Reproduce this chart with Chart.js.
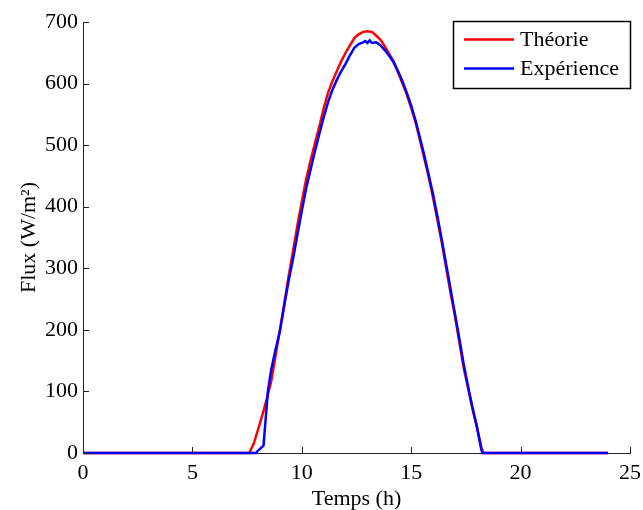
<!DOCTYPE html>
<html>
<head>
<meta charset="utf-8">
<script src="https://cdn.jsdelivr.net/npm/chart.js@4.4.0/dist/chart.umd.min.js"></script>
<style>
    body { margin: 0; background: #fff; }
    canvas { display: block; }
</style>
</head>
<body>
<canvas id="flux-chart" width="643" height="510"></canvas>
<script>
// Temps (h) / Flux (W/m²)
const theoHours = [0, 7.6, 7.8, 8.0, 8.2, 8.4, 8.6, 8.8, 9.0, 9.2, 9.4, 9.6, 9.8, 10.0, 10.2, 10.4, 10.6, 10.8,
    11.0, 11.2, 11.4, 11.6, 11.8, 12.0, 12.2, 12.4, 12.6, 12.8, 13.0, 13.2, 13.4, 13.6, 13.8, 14.0, 14.2, 14.4,
    14.6, 14.8, 15.0, 15.2, 15.4, 15.6, 15.8, 16.0, 16.2, 16.4, 16.6, 16.8, 17.0, 17.2, 17.4, 17.6, 17.8, 18.0,
    18.2, 18.3, 24];
const theoFlux = [0, 0, 15, 38, 62, 88, 116, 158, 200, 243, 288, 328, 370, 408, 445, 475, 503, 530,
    560, 585, 604, 620, 636, 650, 662, 674, 680, 684, 685, 684, 678, 671, 660, 648, 636, 618,
    600, 582, 560, 537, 508, 478, 448, 414, 378, 341, 300, 260, 222, 180, 138, 105, 72, 42,
    10, 0, 0];

const expHours = [0, 7.9, 8.0, 8.25, 8.45, 8.6, 8.8, 9.0, 9.2, 9.4, 9.6, 9.8, 10.0, 10.2, 10.4, 10.6, 10.8,
    11.0, 11.2, 11.4, 11.6, 11.8, 12.0, 12.2, 12.4, 12.6, 12.8, 12.9, 13.0, 13.1, 13.2, 13.4, 13.6, 13.8, 14.0,
    14.2, 14.4, 14.6, 14.8, 15.0, 15.2, 15.4, 15.6, 15.8, 16.0, 16.2, 16.4, 16.6, 16.8, 17.0, 17.2, 17.4, 17.6,
    17.8, 18.0, 18.2, 18.25, 24];
const expFlux = [0, 0, 4, 12, 100, 135, 168, 198, 240, 280, 315, 355, 393, 430, 460, 490, 518,
    545, 570, 590, 606, 620, 632, 646, 658, 664, 667, 669, 666, 670, 666, 667, 662, 654, 645,
    634, 620, 604, 585, 564, 540, 512, 483, 452, 420, 384, 346, 306, 266, 226, 186, 144, 108,
    74, 44, 6, 0, 0];

const xTicks = [0, 5, 10, 15, 20, 25];
const yTicks = [0, 100, 200, 300, 400, 500, 600, 700];

const FONT = "'Liberation Serif', 'Times New Roman', serif";

const toPoints = (xs, ys) => xs.map((x, i) => ({ x, y: ys[i] }));

// ticks pointing inward, matlab style
const inwardTicks = {
    id: "inwardTicks",
    afterDraw(chart) {
        const { ctx, scales: { x, y } } = chart;
        ctx.save();
        ctx.strokeStyle = "#222";
        ctx.lineWidth = 1;
        ctx.beginPath();
        xTicks.forEach(v => {
            const px = Math.round(x.getPixelForValue(v)) + 0.5;
            ctx.moveTo(px, y.bottom);
            ctx.lineTo(px, y.bottom - 6);
        });
        yTicks.forEach(v => {
            const py = Math.round(y.getPixelForValue(v)) + 0.5;
            ctx.moveTo(x.left, py);
            ctx.lineTo(x.left + 6, py);
        });
        ctx.stroke();
        ctx.restore();
    }
};

const boxLegend = {
    id: "boxLegend",
    afterDraw(chart) {
        const ctx = chart.ctx;
        const left = 453.5, top = 21.5, w = 177, h = 67;
        ctx.save();
        ctx.fillStyle = "#fff";
        ctx.fillRect(left, top, w, h);
        ctx.strokeStyle = "#000";
        ctx.lineWidth = 1.5;
        ctx.strokeRect(left, top, w, h);
        ctx.font = `22px ${FONT}`;
        ctx.textBaseline = "middle";
        ctx.fillStyle = "#000";
        const rows = [chart.data.datasets[0], chart.data.datasets[1]];
        rows.forEach((ds, i) => {
            const ly = 39.5 + i * 29;
            ctx.strokeStyle = ds.borderColor;
            ctx.lineWidth = 2.5;
            ctx.beginPath();
            ctx.moveTo(464, ly);
            ctx.lineTo(514, ly);
            ctx.stroke();
            ctx.fillText(ds.label, 520, ly + 1);
        });
        ctx.restore();
    }
};

new Chart(document.getElementById("flux-chart"), {
    type: "line",
    data: {
        datasets: [
            {
                label: "Théorie",
                data: toPoints(theoHours, theoFlux),
                borderColor: "#ff0000",
                borderWidth: 2.5,
                pointRadius: 0,
                tension: 0,
                clip: 4,
                order: 1,
            },
            {
                label: "Expérience",
                data: toPoints(expHours, expFlux),
                borderColor: "#0000ff",
                borderWidth: 2.5,
                pointRadius: 0,
                tension: 0,
                clip: 4,
                order: 0,
            },
        ],
    },
    options: {
        responsive: false,
        animation: false,
        layout: { padding: { top: 22, right: 13, bottom: 0, left: 0 } },
        plugins: { legend: { display: false }, tooltip: { enabled: false } },
        scales: {
            x: {
                type: "linear",
                min: 0,
                max: 25,
                afterBuildTicks: s => { s.ticks = xTicks.map(v => ({ value: v })); },
                afterFit: s => { s.height = 57; s.paddingLeft = 0; s.paddingRight = 0; },
                ticks: { color: "#000", padding: 7, font: { family: FONT, size: 22 } },
                grid: { display: false, drawTicks: false },
                border: { display: true, color: "#222", width: 1 },
                title: {
                    display: true,
                    text: "Temps (h)",
                    color: "#000",
                    padding: { top: 0, bottom: -2 },
                    font: { family: FONT, size: 22 },
                },
            },
            y: {
                min: 0,
                max: 700,
                afterBuildTicks: s => { s.ticks = yTicks.map(v => ({ value: v })); },
                afterFit: s => { s.width = 83; s.paddingTop = 0; s.paddingBottom = 0; },
                ticks: { color: "#000", padding: 5, font: { family: FONT, size: 22 } },
                grid: { display: false, drawTicks: false },
                border: { display: true, color: "#222", width: 1 },
                title: {
                    display: true,
                    text: "Flux (W/m²)",
                    color: "#000",
                    padding: { top: 16, bottom: 0 },
                    font: { family: FONT, size: 22 },
                },
            },
        },
    },
    plugins: [inwardTicks, boxLegend],
});
</script>
</body>
</html>
